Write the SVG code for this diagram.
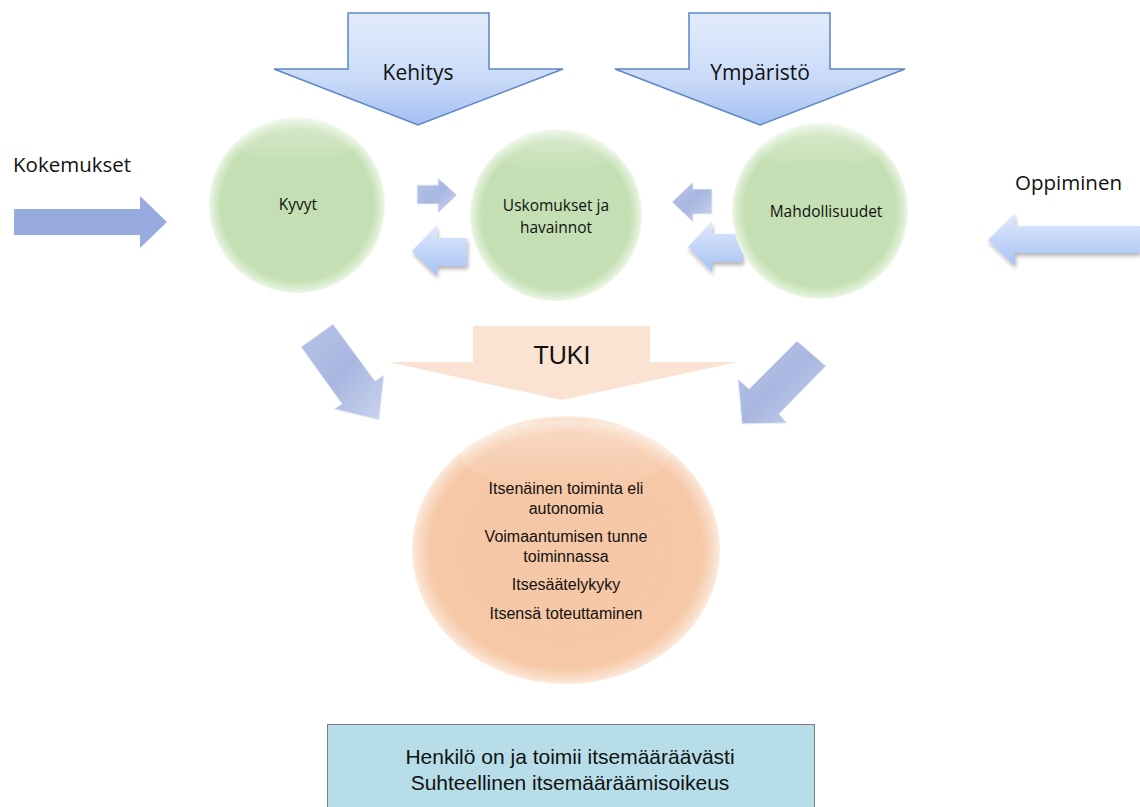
<svg xmlns="http://www.w3.org/2000/svg" width="1140" height="807" viewBox="0 0 1140 807">
<defs>
<linearGradient id="gTop" x1="0" y1="0" x2="0" y2="1"><stop offset="0" stop-color="#e3ecfc"/><stop offset="0.6" stop-color="#c9daf8"/><stop offset="1" stop-color="#a3bff2"/></linearGradient>
<linearGradient id="gLight" x1="0" y1="0" x2="0" y2="1"><stop offset="0" stop-color="#e1eafc"/><stop offset="1" stop-color="#a6c2f4"/></linearGradient>
<linearGradient id="gBevel" x1="0" y1="0" x2="1" y2="1"><stop offset="0" stop-color="#b7c4e8"/><stop offset="0.5" stop-color="#a8b7e0"/><stop offset="1" stop-color="#cbd4ef"/></linearGradient>
<radialGradient id="gGreen" cx="0.5" cy="0.5" r="0.5"><stop offset="0" stop-color="#c4dfb3"/><stop offset="0.86" stop-color="#c4dfb3"/><stop offset="0.95" stop-color="#dbedd0"/><stop offset="1" stop-color="#eef7e9"/></radialGradient>
<radialGradient id="gOrange" cx="0.5" cy="0.5" r="0.5"><stop offset="0" stop-color="#f6c7a6"/><stop offset="0.88" stop-color="#f6c8a8"/><stop offset="0.96" stop-color="#f9dcc6"/><stop offset="1" stop-color="#fcebdf"/></radialGradient>
<linearGradient id="gHi" x1="0" y1="0" x2="0" y2="1"><stop offset="0" stop-color="#ffffff" stop-opacity="0.75"/><stop offset="1" stop-color="#ffffff" stop-opacity="0"/></linearGradient>
<filter id="sh" x="-20%" y="-20%" width="140%" height="150%"><feGaussianBlur in="SourceAlpha" stdDeviation="2"/><feOffset dx="1" dy="3"/><feComponentTransfer><feFuncA type="linear" slope="0.3"/></feComponentTransfer><feMerge><feMergeNode/><feMergeNode in="SourceGraphic"/></feMerge></filter>
<style>
.cal{font-family:"Open Sans","Noto Sans","Liberation Sans",sans-serif;fill:#111}
.ari{font-family:"Liberation Sans",Arial,sans-serif;fill:#111}
.big{stroke:#5b86c5;stroke-width:1.5;fill:url(#gTop)}
.bev{fill:url(#gBevel);stroke:#e8edf8;stroke-width:1}
.lite{fill:url(#gLight)}
</style>
</defs>
<rect width="1140" height="807" fill="#ffffff"/>

<g id="connectors">
  <g id="arrow-kehitys">
    <polygon class="big" points="348,13 489,13 489,69 563,69 418,125 274,69 348,69"/>
    <text class="cal" x="418" y="80" font-size="21" text-anchor="middle">Kehitys</text>
  </g>
  <g id="arrow-ymparisto">
    <polygon class="big" points="689,13 830,13 830,69 905,69 760,125 615,69 689,69"/>
    <text class="cal" x="760" y="80" font-size="21" text-anchor="middle">Ympäristö</text>
  </g>
  <g id="arrow-kokemukset">
    <text class="cal" x="13" y="172" font-size="20.5">Kokemukset</text>
    <polygon fill="#97abde" points="14,209 140,209 140,196 167,222 140,248 140,235 14,235"/>
  </g>
  <g id="arrow-oppiminen">
    <text class="cal" x="1015" y="190" font-size="20.5">Oppiminen</text>
    <polygon class="lite" filter="url(#sh)" points="1140,226 1015,226 1015,213 988,240 1015,266 1015,253 1140,253"/>
  </g>
  <g id="arrow-kyvyt-uskomukset">
    <polygon class="bev" points="417,185 438,185 438,178 457,195 438,213 438,204 417,204"/>
  </g>
  <g id="arrow-uskomukset-kyvyt">
    <polygon class="lite" filter="url(#sh)" points="467,238 437,238 437,225 412,251 437,276 437,266 467,266"/>
  </g>
  <g id="arrow-mahd-uskomukset-1">
    <polygon class="bev" points="712,189 693,189 693,182 672,202 693,222 693,214 712,214"/>
  </g>
  <g id="arrow-mahd-uskomukset-2">
    <polygon class="lite" filter="url(#sh)" points="743,234 712,234 712,221 688,247 712,272 712,262 743,262"/>
  </g>
  <g id="arrow-tuki">
    <polygon fill="#fbe3d4" points="473,326 650,326 650,362 738,362 562,400 388,362 473,362"/>
    <text class="ari" x="562" y="364" font-size="25" text-anchor="middle">TUKI</text>
  </g>
  <g id="arrow-diag-left">
    <polygon class="bev" points="301,347 333,324 375,381 384,375 379,420 334,409 342,404"/>
  </g>
  <g id="arrow-diag-right">
    <polygon class="bev" points="797,341 826,366 779,414 787,423 742,424 738,379 749,389"/>
  </g>
</g>

<g id="node-kyvyt">
  <circle cx="297" cy="205" r="88" fill="url(#gGreen)"/>
  <ellipse cx="297" cy="140" rx="60" ry="24" fill="url(#gHi)" opacity="0.5"/>
  <text class="cal" x="298" y="210" font-size="15.5" text-anchor="middle">Kyvyt</text>
</g>
<g id="node-uskomukset">
  <circle cx="556" cy="215" r="86" fill="url(#gGreen)"/>
  <ellipse cx="556" cy="151" rx="58" ry="23" fill="url(#gHi)" opacity="0.5"/>
  <text class="cal" x="556" y="211" font-size="15.5" text-anchor="middle">Uskomukset ja</text>
  <text class="cal" x="556" y="233" font-size="15.5" text-anchor="middle">havainnot</text>
</g>
<g id="node-mahdollisuudet">
  <circle cx="820" cy="211" r="88" fill="url(#gGreen)"/>
  <ellipse cx="820" cy="146" rx="60" ry="24" fill="url(#gHi)" opacity="0.5"/>
  <text class="cal" x="826" y="217" font-size="15.5" text-anchor="middle">Mahdollisuudet</text>
</g>
<g id="node-autonomia">
  <ellipse cx="566" cy="550" rx="154" ry="134" fill="url(#gOrange)"/>
  <ellipse cx="566" cy="455" rx="105" ry="34" fill="url(#gHi)" opacity="0.45"/>
  <g class="ari" font-size="16" text-anchor="middle">
    <text x="566" y="494">Itsenäinen toiminta eli</text>
    <text x="566" y="513.5">autonomia</text>
    <text x="566" y="542">Voimaantumisen tunne</text>
    <text x="566" y="561.5">toiminnassa</text>
    <text x="566" y="590">Itsesäätelykyky</text>
    <text x="566" y="619">Itsensä toteuttaminen</text>
  </g>
</g>
<g id="node-itsemaaraavasti">
  <rect x="327.5" y="724.5" width="487" height="90" fill="#b7dde8" stroke="#7a7a7a" stroke-width="1"/>
  <text class="ari" x="570" y="764" font-size="21" text-anchor="middle">Henkilö on ja toimii itsemääräävästi</text>
  <text class="ari" x="570" y="790" font-size="21" text-anchor="middle">Suhteellinen itsemääräämisoikeus</text>
</g>
</svg>
